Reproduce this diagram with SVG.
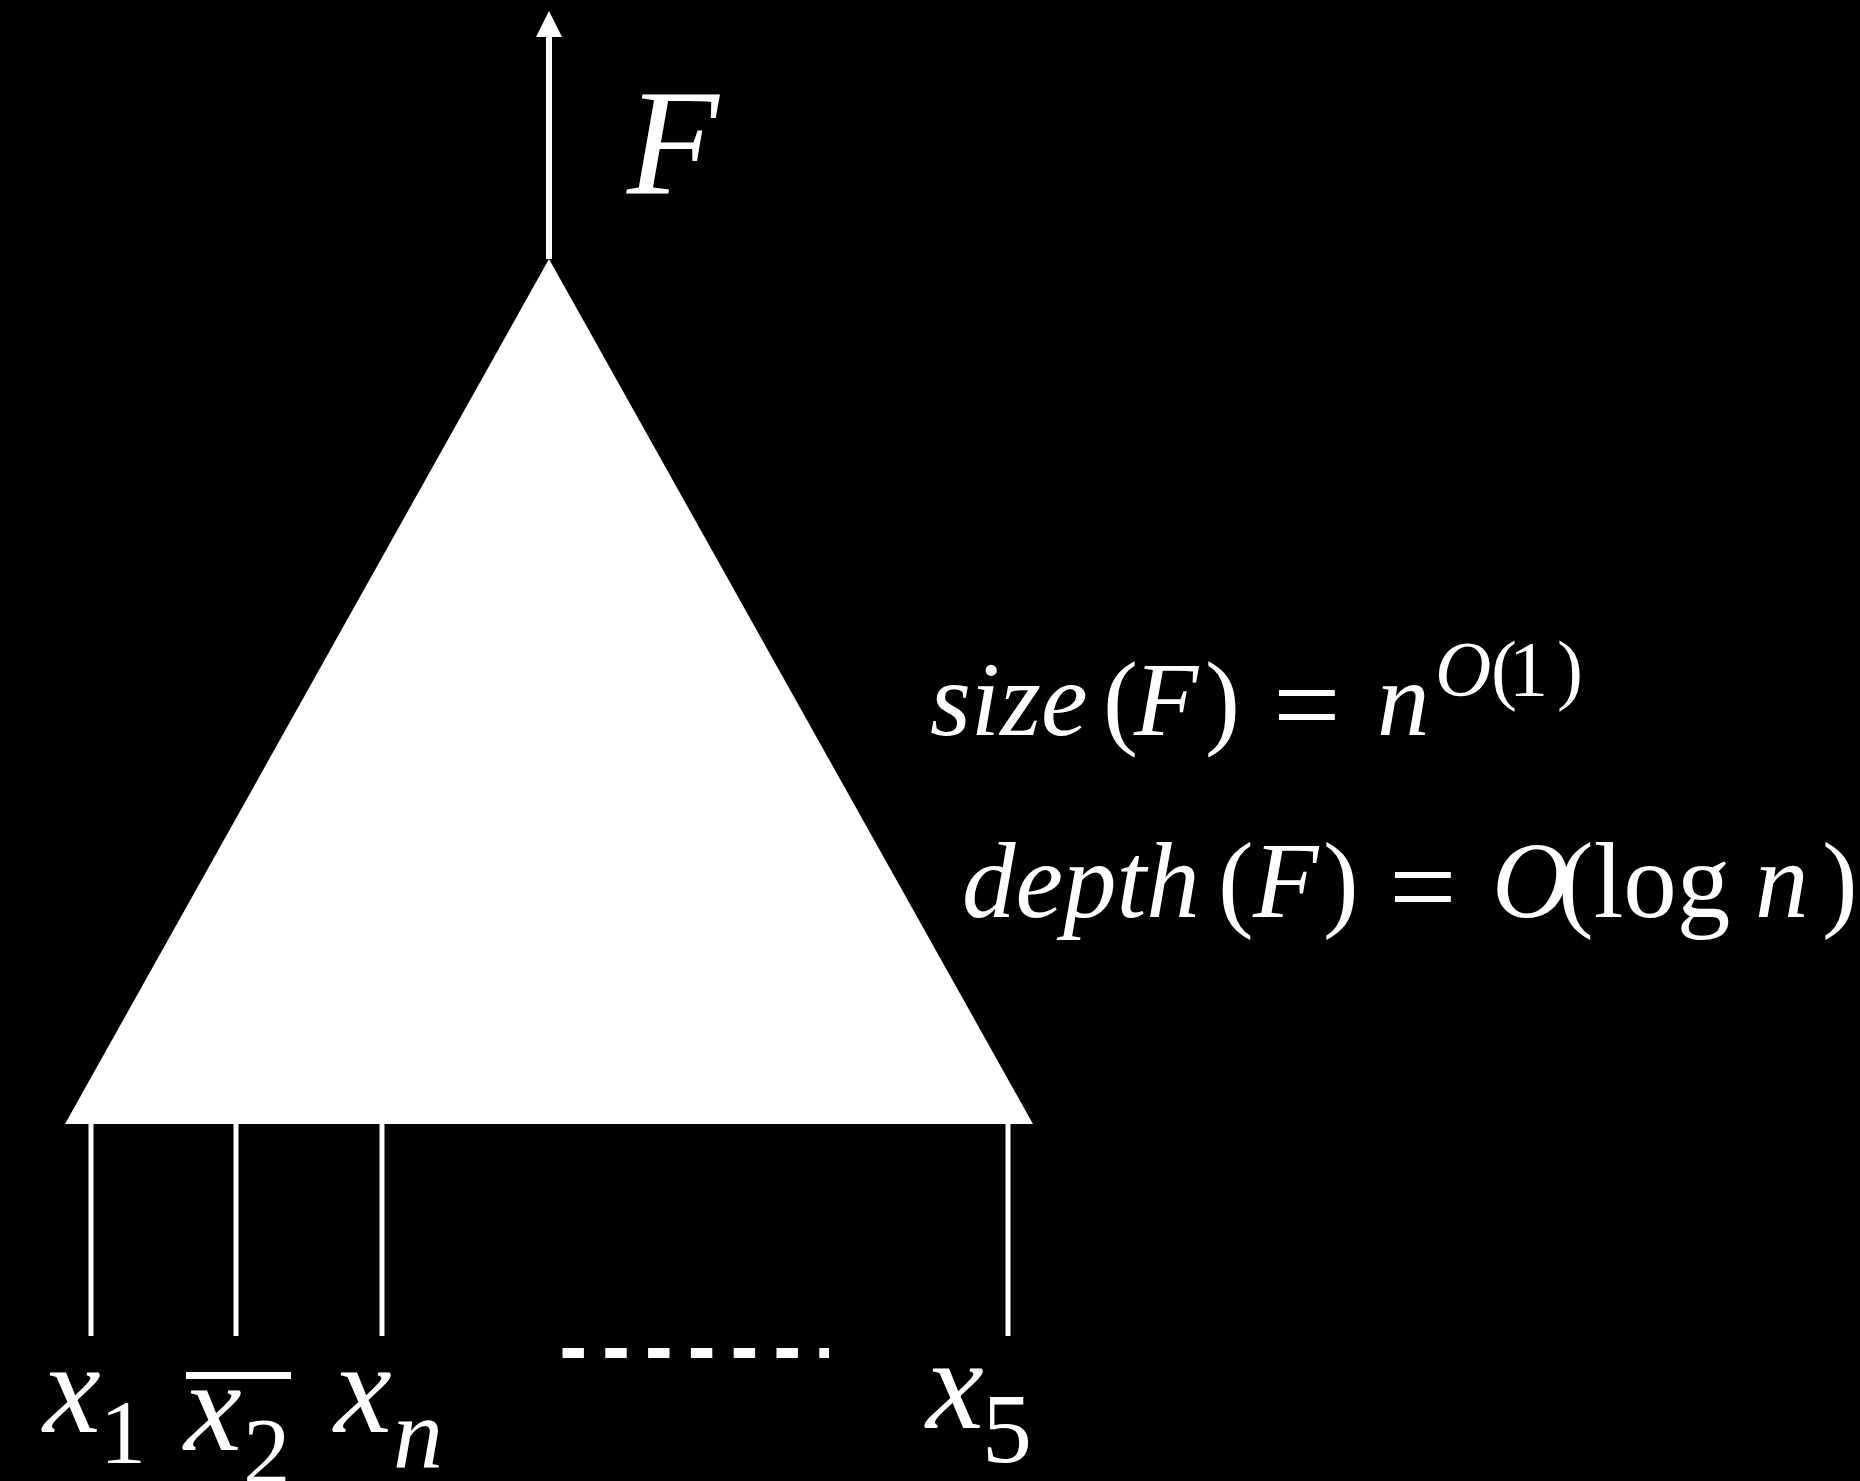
<svg xmlns="http://www.w3.org/2000/svg" width="1860" height="1481" viewBox="0 0 1860 1481">
<rect width="1860" height="1481" fill="#000"/>
<g id="connectors" stroke="#fff" fill="none">
<line x1="549" y1="259" x2="549" y2="37" stroke-width="6"/>
<polygon points="549,11 562,37 536,37" fill="#fff" stroke="none"/>
<line x1="91" y1="1124" x2="91" y2="1336" stroke-width="5"/>
<line x1="236" y1="1124" x2="236" y2="1336" stroke-width="5"/>
<line x1="382" y1="1124" x2="382" y2="1336" stroke-width="5"/>
<line x1="1008" y1="1124" x2="1008" y2="1336" stroke-width="5"/>
<line x1="562.5" y1="1353" x2="829" y2="1353" stroke-width="10" stroke-dasharray="21.4 21.4"/>
</g>
<g id="formula">
<polygon points="549,259 1033,1124 65,1124" fill="#fff"/>
</g>
<g id="output-label" fill="#fff" font-size="80" font-style="italic">
<text transform="translate(627 193) scale(1.875)" font-family="Liberation Serif">F</text>
</g>
<g id="size-label" fill="#fff" font-size="80">
<g font-style="italic">
<text transform="translate(930 735) scale(1.3125)" font-family="Liberation Serif">size</text>
<text transform="translate(1134 735) scale(1.3125)" font-family="Liberation Serif">F</text>
<text transform="translate(1377 735) scale(1.3125)" font-family="Liberation Serif">n</text>
<text transform="translate(1435 695) scale(0.975)" font-family="Liberation Serif">O</text>
</g>
<text transform="translate(1103 735) scale(1.3125)" font-family="Liberation Serif">(</text>
<text transform="translate(1205 735) scale(1.3125)" font-family="Liberation Serif">)</text>
<text transform="translate(1273 745) scale(1.5)" font-family="Liberation Serif">=</text>
<text transform="translate(1491 695) scale(0.975)" font-family="Liberation Serif">(</text>
<text transform="translate(1509 695) scale(0.975)" font-family="Liberation Serif">1</text>
<text transform="translate(1557 695) scale(0.975)" font-family="Liberation Serif">)</text>
</g>
<g id="depth-label" fill="#fff" font-size="80">
<g font-style="italic">
<text transform="translate(962 917) scale(1.3375)" font-family="Liberation Serif">depth</text>
<text transform="translate(1253 917) scale(1.3375)" font-family="Liberation Serif">F</text>
<text transform="translate(1492 917) scale(1.3375)" font-family="Liberation Serif">O</text>
<text transform="translate(1755 917) scale(1.3375)" font-family="Liberation Serif">n</text>
</g>
<text transform="translate(1218 917) scale(1.3375)" font-family="Liberation Serif">(</text>
<text transform="translate(1323 917) scale(1.3375)" font-family="Liberation Serif">)</text>
<text transform="translate(1389 927) scale(1.5)" font-family="Liberation Serif">=</text>
<text transform="translate(1558 917) scale(1.3375)" font-family="Liberation Serif">(log</text>
<text transform="translate(1822 917) scale(1.3375)" font-family="Liberation Serif">)</text>
</g>
<g id="x1" fill="#fff" font-size="80">
<g font-style="italic"><text transform="translate(43 1432) scale(1.625)" font-family="Liberation Serif">x</text></g>
<text transform="translate(100 1463) scale(1.15)" font-family="Liberation Serif">1</text>
</g>
<g id="x2" fill="#fff" font-size="80">
<rect x="186" y="1372" width="105" height="7"/>
<g font-style="italic"><text transform="translate(184 1450) scale(1.625)" font-family="Liberation Serif">x</text></g>
<text transform="translate(243 1484) scale(1.1875)" font-family="Liberation Serif">2</text>
</g>
<g id="xn" fill="#fff" font-size="80">
<g font-style="italic">
<text transform="translate(334 1432) scale(1.625)" font-family="Liberation Serif">x</text>
<text transform="translate(393 1467) scale(1.25)" font-family="Liberation Serif">n</text>
</g>
</g>
<g id="x5" fill="#fff" font-size="80">
<g font-style="italic"><text transform="translate(926 1428) scale(1.625)" font-family="Liberation Serif">x</text></g>
<text transform="translate(982 1462) scale(1.25)" font-family="Liberation Serif">5</text>
</g>
</svg>
